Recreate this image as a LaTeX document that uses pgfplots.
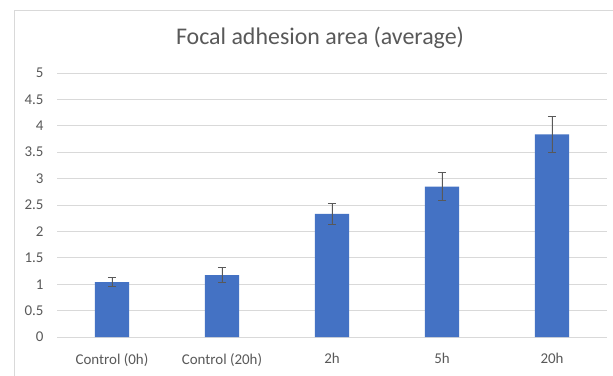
\documentclass[border=0pt]{standalone}
\usepackage{pgfplots}
\pgfplotsset{compat=1.18}
\usepackage{fontspec}
\setmainfont{Carlito}
\definecolor{barblue}{HTML}{4472C4}
\definecolor{gridgray}{HTML}{D9D9D9}
\definecolor{txtgray}{HTML}{595959}
\begin{document}
\begin{tikzpicture}
\path[use as bounding box] (-57bp,-39bp) rectangle (556bp,337bp);
\fill[white] (-57bp,-39bp) rectangle (556bp,337bp);
\draw[gridgray, line width=1bp] (-42bp,-45bp) -- (-42bp,326bp) -- (570bp,326bp);
\begin{axis}[
  at={(0,0)}, anchor=south west, scale only axis,
  width=550bp, height=264bp,
  xmin=-0.5, xmax=4.5, ymin=0, ymax=5,
  xtick={0,1,2,3,4},
  xticklabels={Control (0h),Control (20h),2h,5h,20h},
  ytick={0,0.5,1,1.5,2,2.5,3,3.5,4,4.5,5},
  yticklabels={0,0.5,1,1.5,2,2.5,3,3.5,4,4.5,5},
  axis line style={draw=none},
  major tick length=0pt,
  ymajorgrids, grid style={gridgray, line width=0.9bp},
  tick label style={font=\fontsize{15}{18}\selectfont, text=txtgray},
  yticklabel style={xshift=-10bp},
  xticklabel style={yshift=-13bp},
  ybar, bar width=34bp,
  error bars/y dir=both, error bars/y explicit,
  error bars/error bar style={txtgray, line width=0.9bp},
  error bars/error mark options={rotate=90, mark size=4bp, line width=0.9bp, txtgray},
]
\addplot[fill=barblue, draw=none] table[x=x, y=y, y error=e] {
x y e
0 1.04 0.08
1 1.17 0.14
2 2.33 0.20
3 2.85 0.26
4 3.84 0.345
};
\end{axis}
\node[text=txtgray] at (263bp,299bp) {\fontsize{24}{29}\selectfont Focal adhesion area (average)};
\end{tikzpicture}
\end{document}
